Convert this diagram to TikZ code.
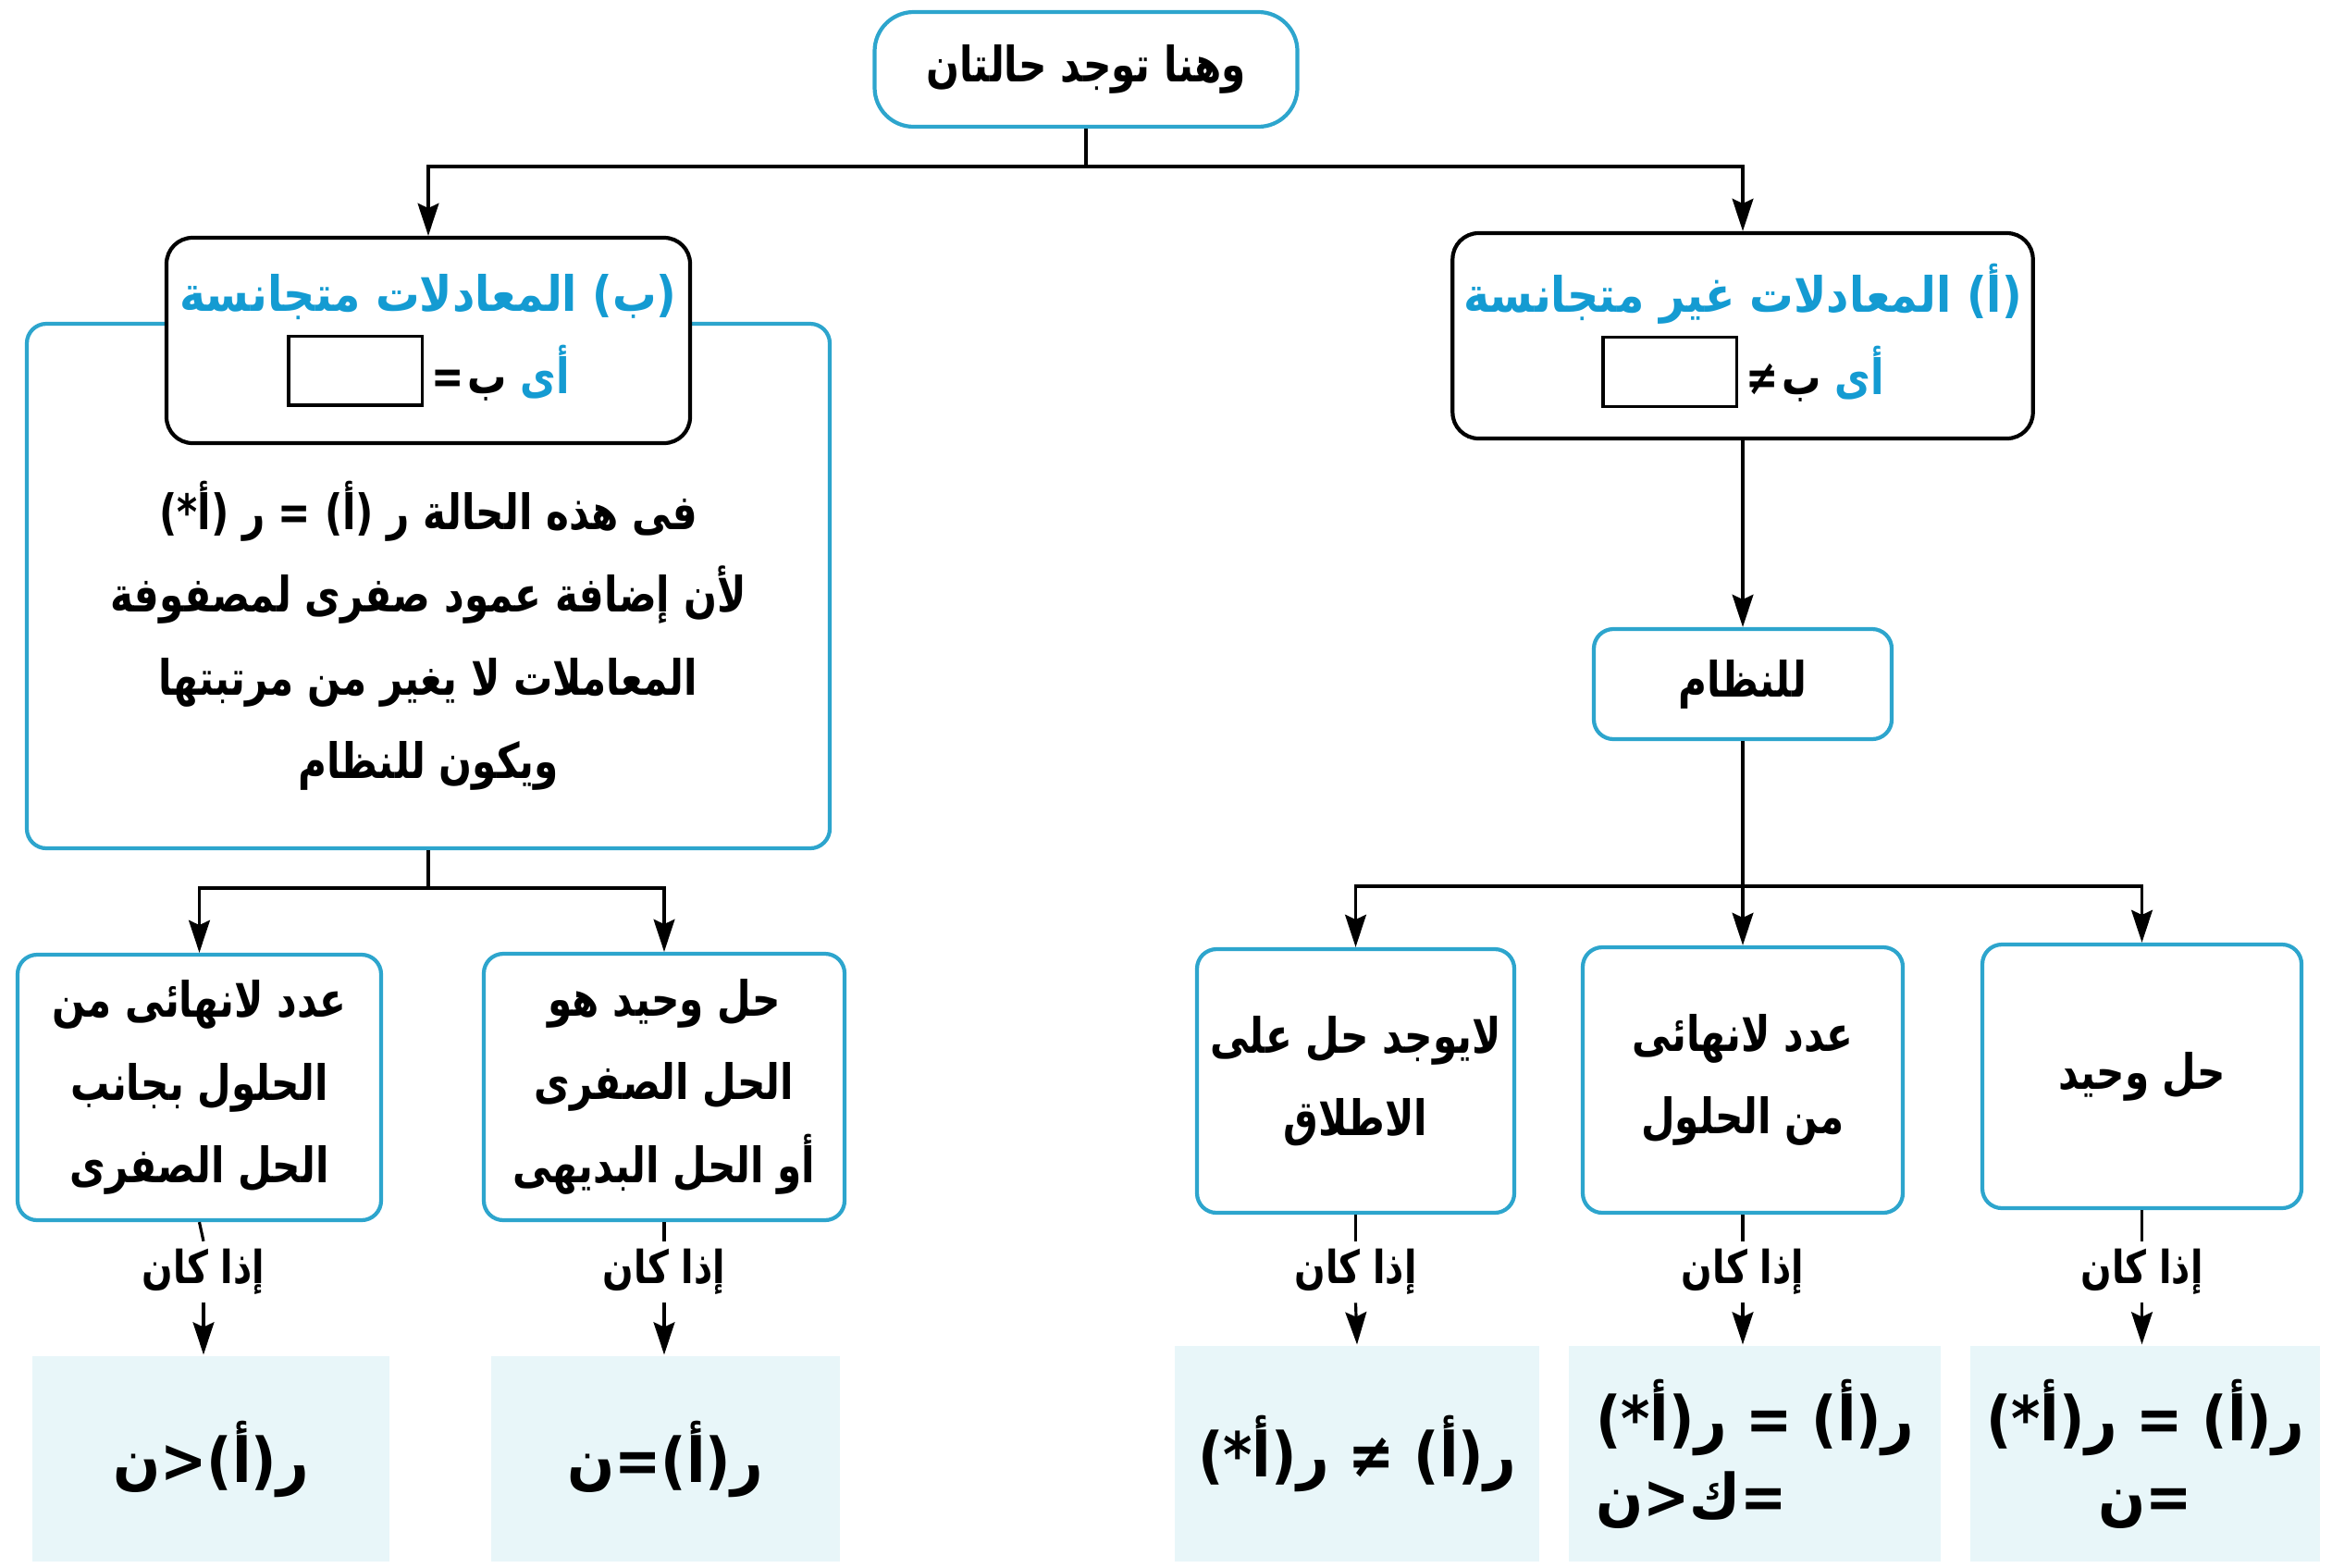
\documentclass[tikz,border=0pt]{standalone}
\usepackage{fontspec}
\newfontfamily\arabicfont[Script=Arabic,FakeStretch=0.8]{DejaVu Sans}
\newfontfamily\arabicwide[Script=Arabic,FakeStretch=0.9]{DejaVu Sans}
\usetikzlibrary{arrows.meta}
\TeXXeTstate=1

\definecolor{boxcyan}{RGB}{45,165,205}
\definecolor{titleblue}{RGB}{20,155,210}
\definecolor{resfill}{RGB}{232,246,249}

\newcommand{\ar}[1]{\beginR #1\endR}
\newcommand{\blankbox}{{\setlength{\fboxrule}{1pt}\fbox{\rule{0pt}{0.5cm}\hspace{1.2cm}}}}

\begin{document}
\begin{tikzpicture}[>={Stealth[length=10pt,width=6.5pt,inset=1.5pt]}, line width=0.9pt,
    every node/.style={font=\arabicfont\bfseries\fontsize{15}{25.5}\selectfont, align=center},
    cbox/.style={draw=boxcyan, line width=1.2pt, rounded corners=6pt, fill=white},
    kbox/.style={draw=black, line width=1.2pt, rounded corners=8pt, fill=white},
    resbox/.style={fill=resfill, inner sep=0pt, font=\arabicwide\bfseries\fontsize{19}{24}\selectfont},
    ifnote/.style={font=\arabicfont\bfseries\fontsize{14}{15}\selectfont, inner sep=2pt}]
    \useasboundingbox (0,0) rectangle (25.21,-16.94);

    % top
    \node[cbox, rounded corners=12pt, minimum width=4.57cm, minimum height=1.24cm] (top) at (11.74,-0.75) {\ar{وهنا توجد حالتان}};

    % left branch: homogeneous
    \node[cbox, minimum width=8.68cm, minimum height=5.67cm] (bigB) at (4.63,-6.335) {};
    \node[kbox, minimum width=5.66cm, minimum height=2.22cm] (hdrB) at (4.63,-3.68)
        {{\arabicwide\color{titleblue}\ar{(ب) المعادلات متجانسة}}\\
         \blankbox\,=\kern1pt ب\ {\color{titleblue}أى}};
    \node (bigtxt) at (4.63,-6.87) {\ar{فى هذه الحالة ر (أ) = ر (أ*)}\\ \ar{لأن إضافة عمود صفرى لمصفوفة}\\
        \ar{المعاملات لا يغير من مرتبتها}\\ \ar{ويكون للنظام}};
    \node[cbox, minimum width=3.93cm, minimum height=2.87cm] (infB) at (2.155,-11.755)
        {\ar{عدد لانهائى من}\\ \ar{الحلول بجانب}\\ \ar{الحل الصفرى}};
    \node[cbox, minimum width=3.90cm, minimum height=2.88cm] (uniqB) at (7.18,-11.75)
        {\ar{حل وحيد هو}\\ \ar{الحل الصفرى}\\ \ar{أو الحل البديهى}};

    % right branch: non homogeneous
    \node[kbox, minimum width=6.27cm, minimum height=2.22cm] (hdrA) at (18.84,-3.63)
        {{\arabicwide\color{titleblue}\ar{(أ) المعادلات غير متجانسة}}\\
         \blankbox\,≠\kern1pt ب\ {\color{titleblue}أى}};
    \node[cbox, minimum width=3.22cm, minimum height=1.19cm] (sys) at (18.84,-7.395) {\ar{للنظام}};
    \node[cbox, minimum width=3.43cm, minimum height=2.85cm] (none) at (14.655,-11.685)
        {\ar{لايوجد حل على}\\ \ar{الاطلاق}};
    \node[cbox, minimum width=3.46cm, minimum height=2.87cm] (inf) at (18.84,-11.675)
        {\ar{عدد لانهائى}\\ \ar{من الحلول}};
    \node[cbox, minimum width=3.45cm, minimum height=2.85cm] (uniq) at (23.155,-11.635) {\ar{حل وحيد}};

    % conditions
    \node[ifnote] (ifInfB) at (2.2,-13.75) {\ar{إذا كان}};
    \node[ifnote] (ifUniqB) at (7.18,-13.75) {\ar{إذا كان}};
    \node[ifnote] (ifNone) at (14.655,-13.75) {\ar{إذا كان}};
    \node[ifnote] (ifInf) at (18.84,-13.75) {\ar{إذا كان}};
    \node[ifnote] (ifUniq) at (23.155,-13.75) {\ar{إذا كان}};

    \node[resbox, minimum width=3.86cm, minimum height=2.22cm] (resInfB) at (2.28,-15.77) {\ar{ر(أ)<ن}};
    \node[resbox, minimum width=3.77cm, minimum height=2.22cm] (resUniqB) at (7.19,-15.77) {\ar{ر(أ)=ن}};
    \node[resbox, minimum width=3.94cm, minimum height=2.33cm] (resNone) at (14.67,-15.715) {\ar{ر(أ) ≠ ر(أ*)}};
    \node[resbox, minimum width=4.02cm, minimum height=2.33cm, align=left] (resInf) at (18.97,-15.715)
        {\ar{ر(أ) = ر(أ*)}\\ \ar{=ك<ن}};
    \node[resbox, minimum width=3.78cm, minimum height=2.33cm] (resUniq) at (23.19,-15.715)
        {\ar{ر(أ) = ر(أ*)}\\ \ar{=ن}};

    % connectors
    \coordinate (splitTop) at (11.74,-1.80);
    \coordinate (splitB) at (4.63,-9.60);
    \coordinate (splitA) at (18.84,-9.58);
    \draw (top.south) -- (splitTop);
    \draw[->] (splitTop) -| (hdrB.north);
    \draw[->] (splitTop) -| (hdrA.north);
    \draw[->] (hdrA.south) -- (sys.north);
    \draw (sys.south) -- (splitA);
    \draw[->] (splitA) -| (none.north);
    \draw[->] (splitA) -- (inf.north);
    \draw[->] (splitA) -| (uniq.north);
    \draw (bigB.south) -- (splitB);
    \draw[->] (splitB) -| (infB.north);
    \draw[->] (splitB) -| (uniqB.north);

    \draw (infB.south) -- (ifInfB.north);
    \draw (uniqB.south) -- (ifUniqB.north);
    \draw (none.south) -- (ifNone.north);
    \draw (inf.south) -- (ifInf.north);
    \draw (uniq.south) -- (ifUniq.north);
    \draw[->] (ifInfB.south) -- (ifInfB.south |- resInfB.north);
    \draw[->] (ifUniqB.south) -- (ifUniqB.south |- resUniqB.north);
    \draw[->] (ifNone.south) -- (resNone.north);
    \draw[->] (ifInf.south) -- (ifInf.south |- resInf.north);
    \draw[->] (ifUniq.south) -- (ifUniq.south |- resUniq.north);
\end{tikzpicture}
\end{document}
